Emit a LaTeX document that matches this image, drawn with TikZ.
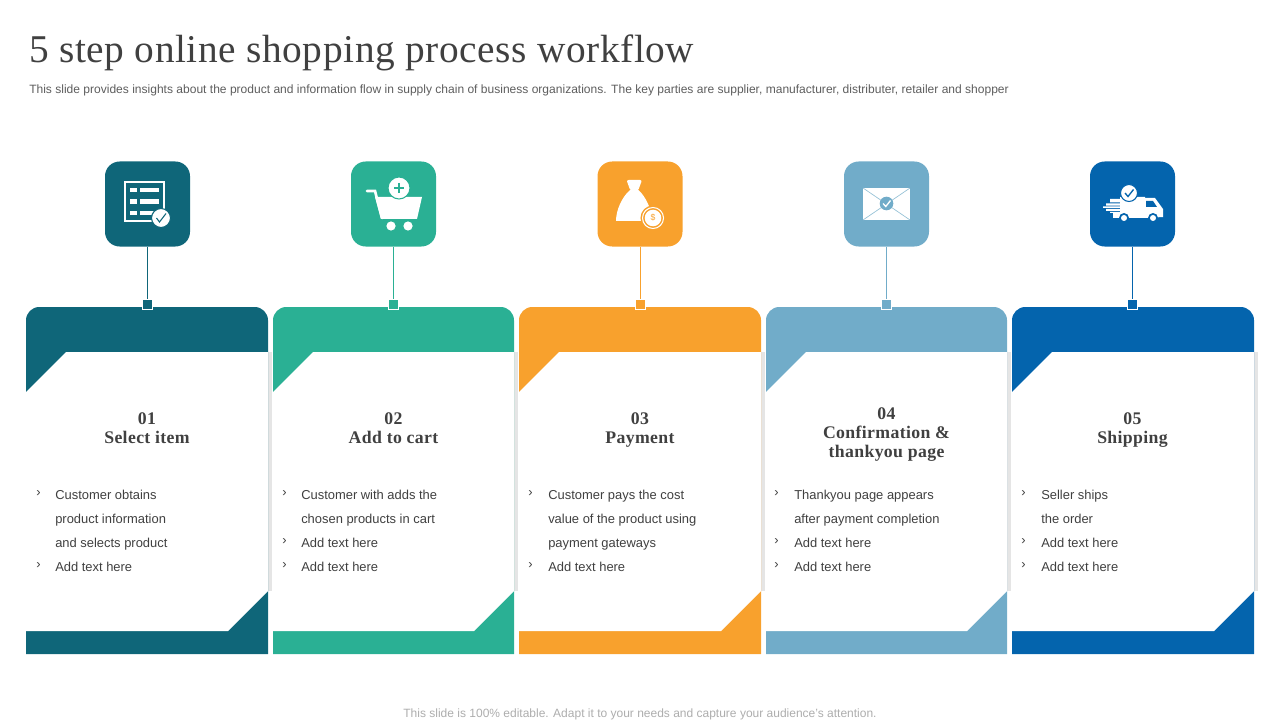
\documentclass[tikz,border=0pt]{standalone}
\usepackage{fontspec}
\setmainfont{Liberation Sans}
\newfontfamily\titlefont[LetterSpace=1.5]{Liberation Serif}
\newfontfamily\headfont[LetterSpace=2]{Liberation Serif}
\usetikzlibrary{positioning}
\definecolor{tealc}{HTML}{0F6679}
\definecolor{greenc}{HTML}{2AB094}
\definecolor{orangec}{HTML}{F8A12D}
\definecolor{lightc}{HTML}{71ACC9}
\definecolor{bluec}{HTML}{0464AD}
\definecolor{inkc}{HTML}{404040}

\begin{document}
\begin{tikzpicture}[x=0.75pt, y=-0.75pt,
    iconbox/.style = {minimum size=63.75pt, inner sep=0pt, rounded corners=11pt},
    dotbox/.style = {draw=white, line width=0.5pt, minimum size=7.5pt, inner sep=0pt},
    head/.style = {anchor=north, inner sep=0pt, align=center, text=inkc, font=\headfont\bfseries\fontsize{13.3}{14.6}\selectfont},
    item/.style = {anchor=north west, align=left, inner sep=0pt, text=inkc, font=\fontsize{9.7}{18}\selectfont}]
    \useasboundingbox (0,0) rectangle (1280,720);

    \node[anchor=base west, inner sep=0pt, text=inkc, font=\titlefont\fontsize{29.5}{32}\selectfont] (title) at (29,63) {5 step online shopping process workflow};
    \node[anchor=base west, inner sep=0pt, text=inkc!85, font=\fontsize{9.03}{11}\selectfont] (sub) at (29,94) {This slide provides insights about the product and information flow in supply chain of business organizations. The key parties are supplier, manufacturer, distributer, retailer and shopper};
    \node[anchor=base, inner sep=0pt, text=black!32, font=\fontsize{9}{11}\selectfont] (foot) at (640,717) {This slide is 100\% editable. Adapt it to your needs and capture your audience's attention.};

    % cards, icon boxes and connectors
    \foreach \i/\xa/\xb/\xm/\col in {1/26/268/147.5/tealc, 2/273/514/393.5/greenc, 3/519/761/640/orangec, 4/766/1007/886.5/lightc, 5/1012/1254/1132.5/bluec} {
        \fill[black!10] (\xb,352) rectangle ({\xb+3.5},591);
        \fill[\col, rounded corners=10pt] (\xa,420) -- (\xa,307) -- (\xb,307) -- (\xb,420) [sharp corners] -- (\xb,654) -- (\xa,654) -- cycle;
        \fill[white] ({\xa+40},352) -- (\xb,352) -- (\xb,591) -- ({\xb-40},631) -- (\xa,631) -- (\xa,392) -- cycle;
        \node[iconbox, fill=\col] (icon\i) at (\xm,204) {};
        \node[dotbox, fill=\col] (dot\i) at (\xm,304) {};
        \draw[\col, line width=0.75pt] (icon\i) -- (dot\i);
    }

    % 1 list
    \draw[white, line width=1.6pt] (125,182) rectangle (164,221);
    \foreach \y in {190,201.7,213} {
        \fill[white] (130,\y-2.3) rectangle (136.5,\y+2.3);
        \fill[white] (140,\y-2.3) rectangle (159,\y+2.3);
    }
    \filldraw[fill=white, draw=tealc, line width=0.8pt] (161,218) circle (9.5);
    \draw[tealc, line width=0.8pt] (156.5,218) -- (159.5,222) -- (166,213.5);

    % 2 cart
    \draw[white, line width=2pt, line cap=round] (367,191) -- (375,191) -- (382,218);
    \fill[white] (375,197) -- (422,197) -- (417,219) -- (381,219) -- cycle;
    \fill[white] (391,226) circle (4.6) (408,226) circle (4.6);
    \filldraw[fill=white, draw=greenc, line width=0.8pt] (399,188) circle (11);
    \draw[greenc, line width=1.3pt] (394,188) -- (404,188) (399,183) -- (399,193);

    % 3 money bag
    \fill[white, rounded corners=1.5pt] (626.5,180) -- (642,180) -- (638,191) -- (630.5,191) -- cycle;
    \fill[white] (630,190) .. controls (622,197) and (616,210) .. (616,221) -- (652,221) .. controls (652,210) and (646,197) .. (638.5,190) -- cycle;
    \filldraw[fill=orangec, draw=orangec, line width=0.8pt] (653,218) circle (12);
    \draw[white, line width=0.8pt] (653,218) circle (10.5);
    \fill[white] (653,218) circle (8.3);
    \node[text=orangec, inner sep=0pt, font=\fontsize{6.5}{7}\selectfont] (coin) at (653,218) {\$};

    % 4 envelope
    \fill[white] (863,188) rectangle (910,220);
    \draw[lightc!75, line width=0.5pt] (863,188) -- (910,220) (910,188) -- (863,220);
    \fill[lightc] (886.5,203.5) circle (6.8);
    \draw[white, line width=1pt] (883,203.5) -- (885.8,206.5) -- (890.5,200.5);

    % 5 truck
    \fill[white] (1120,197) rectangle (1145,218) (1113,213) rectangle (1120,218);
    \fill[white] (1145,198) -- (1155,198) -- (1163,209) -- (1163,217) -- (1145,218) -- cycle;
    \fill[bluec] (1146,201) -- (1153,201) -- (1157,207) -- (1146,207) -- cycle;
    \fill[white] (1110,199) rectangle (1120,202.5) (1106,203.3) rectangle (1120,205.7) (1103,206.5) rectangle (1120,208) (1106,208.8) rectangle (1120,211) (1110,211.8) rectangle (1120,213);
    \foreach \x in {1124,1153} {
        \fill[bluec] (\x,218) circle (5);
        \fill[white] (\x,218) circle (3);
    }
    \filldraw[fill=white, draw=bluec, line width=0.8pt] (1129,193) circle (8.5);
    \draw[bluec, line width=1pt] (1125,193) -- (1128,196.5) -- (1133.5,189.5);

    % headings
    \node[head] (h1) at (147,412) {01\\Select item};
    \node[head] (h2) at (393.5,412) {02\\Add to cart};
    \node[head] (h3) at (640,412) {03\\Payment};
    \node[head] (h4) at (886.5,407) {04\\Confirmation \&\\thankyou page};
    \node[head] (h5) at (1132.5,412) {05\\Shipping};

    % list texts
    \foreach \x/\ya/\yb in {36/490/562, 282/490/538, 528/490/562, 774/490/538, 1021/490/538} {
        \node[item] at (\x,\ya) {›};
        \node[item] at (\x,\yb) {›};
    }
    \foreach \x/\y in {282/562, 774/562, 1021/562} {
        \node[item] at (\x,\y) {›};
    }
    \node[item] (t1) at (55,489.5) {Customer obtains\\product information\\and selects product\\Add text here};
    \node[item] (t2) at (301,489.5) {Customer with adds the\\chosen products in cart\\Add text here\\Add text here};
    \node[item] (t3) at (548,489.5) {Customer pays the cost\\value of the product using\\payment gateways\\Add text here};
    \node[item] (t4) at (794,489.5) {Thankyou page appears\\after payment completion\\Add text here\\Add text here};
    \node[item] (t5) at (1041,489.5) {Seller ships\\the order\\Add text here\\Add text here};
\end{tikzpicture}
\end{document}
